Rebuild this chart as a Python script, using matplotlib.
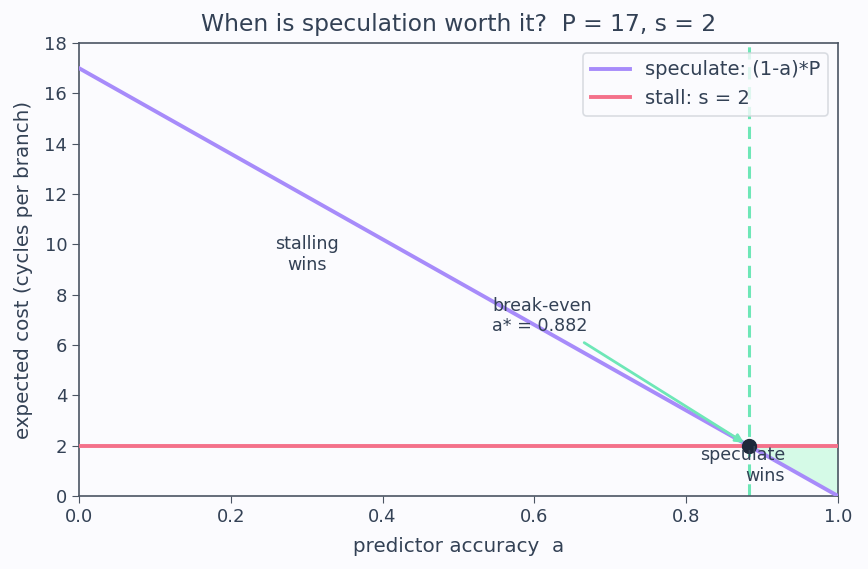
import numpy as np
import matplotlib
matplotlib.use("Agg")
import matplotlib.pyplot as plt

P = 17
s = 2
a_star = 1 - s / P
a_vals = [0.0, 1.0]
spec_vals = [(1 - a) * P for a in a_vals]
stall_vals = [s, s]

text_c = "#334155"
spine_c = "#4b5563"
bg = "#fbfbfe"
purple = "#a78bfa"
red = "#f4718a"
mint = "#6ee7b7"
dot_c = "#1e293b"

plt.rcParams['font.family'] = ['DejaVu Sans']
fig = plt.figure(figsize=(8.68, 5.69), dpi=100, facecolor=bg)
ax = fig.add_axes([79/868, 1-496/569, (838-79)/868, (496-43)/569], facecolor=bg)

# shaded region where speculation wins
af = [a_star, 1.0]
ax.fill_between(af, [(1 - a) * P for a in af], [s, s], color="#d1fae5", alpha=0.9, lw=0, zorder=1)

ax.plot(a_vals, spec_vals, color=purple, lw=2.8, label="speculate: (1-a)*P", zorder=3)
ax.plot(a_vals, stall_vals, color=red, lw=2.8, label="stall: s = 2", zorder=3)
ax.axvline(a_star, color=mint, lw=2.2, ls=(0, (4, 2.5)), zorder=2)
ax.scatter([a_star], [s], s=100, color=dot_c, zorder=5)

ax.annotate(f"break-even\na* = {a_star:.3f}", xy=(a_star, s), xytext=(0.544, 7.15),
            ha="left", va="center", fontsize=12.6, color=text_c,
            arrowprops=dict(arrowstyle="-|>", color=mint, lw=2, shrinkA=6, shrinkB=4, mutation_scale=12),
            zorder=6)
ax.text(0.30, 9.6, "stalling\nwins", ha="center", va="center", fontsize=12.6, color=text_c)
ax.text(0.930, 1.2, "speculate\nwins", ha="right", va="center", fontsize=12.6, color=text_c, zorder=6)

ax.set_xlim(0, 1)
ax.set_ylim(0, 18)
ax.set_xticks(np.arange(0, 1.01, 0.2))
ax.set_yticks(np.arange(0, 19, 2))
ax.tick_params(colors=text_c, labelsize=13, length=5, color=spine_c)
for sp in ax.spines.values():
    sp.set_color(spine_c)
    sp.set_linewidth(1.2)
ax.set_xlabel("predictor accuracy  a", fontsize=14.3, color=text_c, labelpad=8)
ax.set_ylabel("expected cost (cycles per branch)", fontsize=14.3, color=text_c, labelpad=8.5)
ax.set_title(f"When is speculation worth it?  P = {P}, s = {s}", fontsize=16.8, color=text_c, pad=9)

leg = ax.legend(loc="upper right", fontsize=14, frameon=True, facecolor=bg, edgecolor="#d1d5db",
                labelcolor=text_c)
leg.get_frame().set_linewidth(1.2)

fig.savefig("out.png", dpi=100, facecolor=bg)
